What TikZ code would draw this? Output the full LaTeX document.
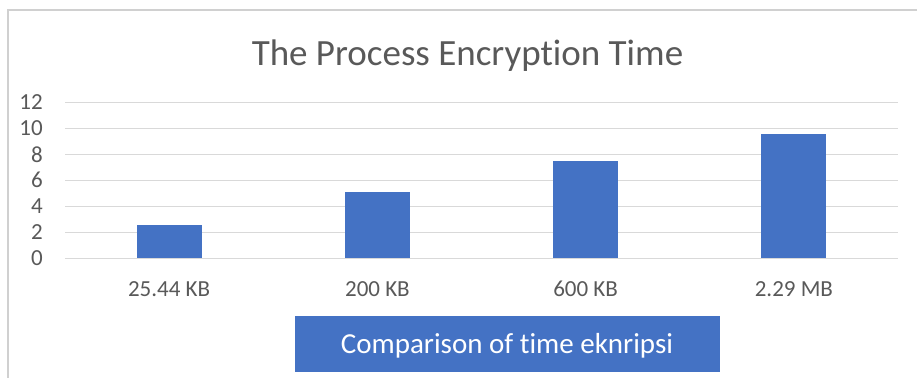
\documentclass[tikz,border=0pt]{standalone}
\usepackage{fontspec}
\setmainfont{Carlito}[RawFeature={-liga;-clig;-dlig}]
\definecolor{barblue}{HTML}{4472C4}
\definecolor{gridgray}{HTML}{D9D9D9}
\definecolor{framegray}{HTML}{D0D0D0}
\definecolor{labelgray}{HTML}{595959}
\tikzset{
  gridline/.style={draw=gridgray, line width=1.2pt},
  bar/.style={fill=barblue, draw=none},
  ticklabel/.style={text=labelgray, inner sep=0pt, font=\fontsize{23}{23}\selectfont},
  catlabel/.style={text=labelgray, inner sep=0pt, font=\fontsize{23}{23}\selectfont},
  charttitle/.style={text=labelgray, inner sep=0pt, font=\fontsize{37}{37}\selectfont},
  legendbox/.style={fill=barblue, draw=none},
  legendtext/.style={text=white, inner sep=0pt, font=\fontsize{29}{29}\selectfont}
}
\begin{document}
\begin{tikzpicture}[x=1pt,y=-1pt]
  \useasboundingbox (0,0) rectangle (917,377);
  \fill[white] (0,0) rectangle (917,377);
  % chart frame (open at the right and bottom)
  \draw[framegray, line width=2pt] (8,380) -- (8,10) -- (920,10);

  % title (the kerns keep t and i as separate letters)
  \node[charttitle, anchor=base] (title) at (467.5,66) {The Process Encrypt\kern0pt ion Time};

  % horizontal grid lines and value labels, 13 px per unit, zero at y=258.3
  \foreach \v in {0,2,...,12} {
    \draw[gridline] (65,{258.3-13*\v}) -- (898,{258.3-13*\v});
    \node[ticklabel, anchor=east] (tick\v) at (43,{258.3-13*\v}) {\v};
  }

  % bars
  \foreach \c/\val/\lab [count=\i] in {169.1/2.56/25.44 KB, 377.4/5.08/200 KB, 585.6/7.5/600 KB, 793.9/9.6/2.29 MB} {
    \fill[bar] ({\c-32.5},258.3) rectangle ({\c+32.5},{258.3-13*\val});
    \node[catlabel] (cat\i) at (\c,289.3) {\lab};
  }

  % legend
  \fill[legendbox] (295,316) rectangle (720,372);
  \node[legendtext, anchor=base] (legend) at (507,353.5) {Comparison of t\kern0pt ime eknripsi};
\end{tikzpicture}
\end{document}
